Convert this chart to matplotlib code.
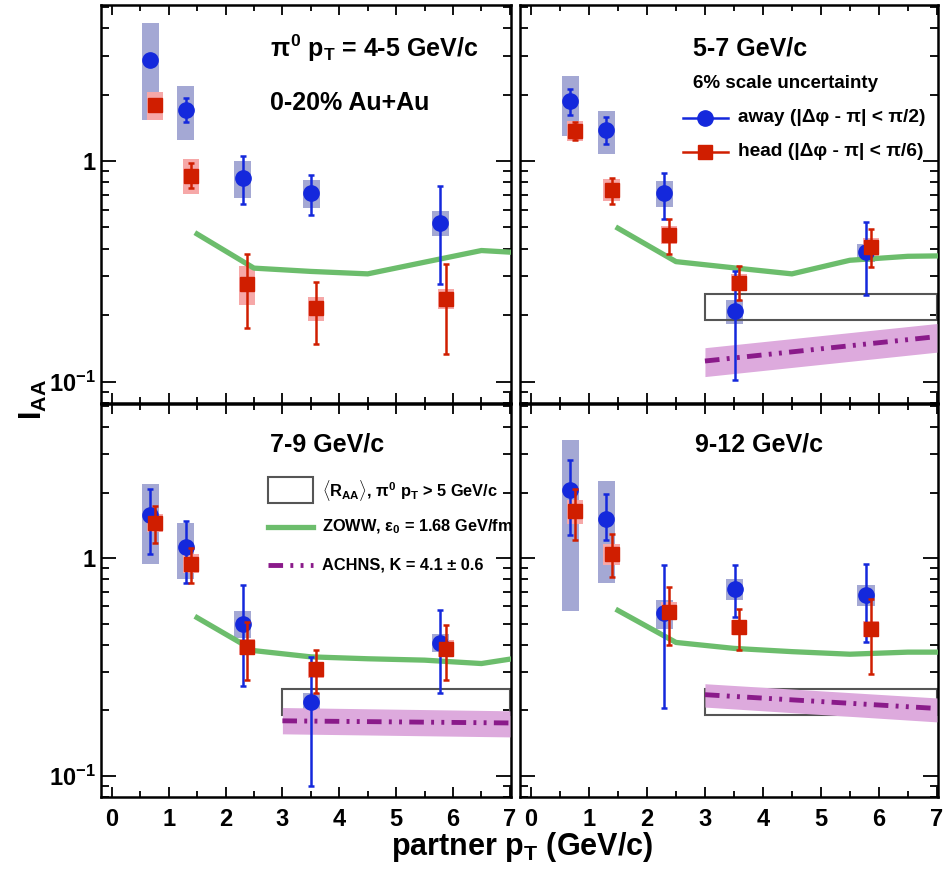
import numpy as np
import matplotlib
matplotlib.use("Agg")
from matplotlib import pyplot as plt
from matplotlib.lines import Line2D
from matplotlib.patches import Rectangle
from matplotlib.ticker import FixedLocator, NullFormatter, FixedFormatter, LogLocator

plt.rcParams['font.family'] = ['Liberation Sans', 'DejaVu Sans']
plt.rcParams['font.weight'] = 'bold'
plt.rcParams['mathtext.fontset'] = 'custom'
plt.rcParams['mathtext.rm'] = 'Liberation Sans:bold'
plt.rcParams['mathtext.it'] = 'Liberation Sans:bold'
plt.rcParams['mathtext.bf'] = 'Liberation Sans:bold'

# ---- data ----
AWAY_X = [0.68, 1.30, 2.30, 3.51, 5.78]
HEAD_X = [0.76, 1.39, 2.38, 3.59, 5.87]

PANELS = ["4-5", "5-7", "7-9", "9-12"]

away_y = [[2.88, 1.71, 0.842, 0.713, 0.524],
          [1.865, 1.39, 0.713, 0.208, 0.386],
          [1.57, 1.12, 0.50, 0.2185, 0.409],
          [2.045, 1.516, 0.56, 0.724, 0.68]]
away_stat_lo = [[2.75, 1.51, 0.642, 0.569, 0.278],
                [1.62, 1.20, 0.546, 0.102, 0.248],
                [1.047, 0.77, 0.258, 0.090, 0.24],
                [1.27, 1.205, 0.204, 0.536, 0.412]]
away_stat_hi = [[3.0, 1.93, 1.053, 0.865, 0.771],
                [2.12, 1.585, 0.886, 0.319, 0.527],
                [2.08, 1.48, 0.75, 0.351, 0.58],
                [2.81, 1.97, 0.926, 0.926, 0.94]]
away_sys_lo = [[1.54, 1.24, 0.679, 0.61, 0.456],
               [1.30, 1.08, 0.616, 0.183, 0.348],
               [0.936, 0.80, 0.43, 0.197, 0.37],
               [0.571, 0.768, 0.474, 0.644, 0.60]]
away_sys_hi = [[4.21, 2.19, 1.0, 0.818, 0.593],
               [2.42, 1.69, 0.812, 0.234, 0.421],
               [2.19, 1.45, 0.57, 0.239, 0.45],
               [3.49, 2.25, 0.644, 0.804, 0.755]]

head_y = [[1.80, 0.856, 0.276, 0.216, 0.238],
          [1.365, 0.74, 0.462, 0.281, 0.407],
          [1.45, 0.943, 0.391, 0.308, 0.384],
          [1.637, 1.047, 0.565, 0.483, 0.471]]
head_stat_lo = [[1.72, 0.753, 0.175, 0.148, 0.134],
                [1.24, 0.64, 0.38, 0.234, 0.33],
                [1.17, 0.768, 0.277, 0.239, 0.277],
                [1.205, 0.818, 0.398, 0.38, 0.293]]
head_stat_hi = [[1.88, 0.976, 0.38, 0.283, 0.342],
                [1.50, 0.84, 0.546, 0.336, 0.492],
                [1.73, 1.11, 0.508, 0.377, 0.491],
                [2.08, 1.294, 0.736, 0.586, 0.651]]
head_sys_lo = [[1.54, 0.707, 0.2235, 0.188, 0.214],
               [1.23, 0.66, 0.421, 0.2566, 0.373],
               [1.316, 0.853, 0.358, 0.282, 0.351],
               [1.438, 0.926, 0.518, 0.445, 0.434]]
head_sys_hi = [[2.05, 1.025, 0.336, 0.242, 0.262],
               [1.515, 0.833, 0.506, 0.308, 0.447],
               [1.6, 1.04, 0.427, 0.333, 0.419],
               [1.853, 1.164, 0.628, 0.522, 0.514]]

ZOWW_X = [1.5, 2.5, 3.5, 4.5, 5.5, 6.5, 7.5]
zoww_y = [[0.467, 0.327, 0.316, 0.308, 0.348, 0.393, 0.38],
          [0.496, 0.35, 0.328, 0.308, 0.355, 0.37, 0.373],
          [0.533, 0.376, 0.352, 0.345, 0.340, 0.328, 0.36],
          [0.575, 0.41, 0.385, 0.372, 0.362, 0.37, 0.37]]

ACHNS_X = [3.0, 7.0]
achns_y = [None, [0.124, 0.160], [0.179, 0.175], [0.236, 0.204]]
achns_lo = [None, [0.1054, 0.136], [0.156, 0.151], [0.207, 0.177]]
achns_hi = [None, [0.1425, 0.1834], [0.206, 0.199], [0.265, 0.228]]

RAA_X = [3.0, 7.0]
RAA_Y = [0.19, 0.25]
show_raa = [False, True, True, True]

BLUE = '#1428dc'
RED = '#d01e00'
BLUE_BOX = '#a4a8d4'
RED_BOX = '#f6a8a8'
GREEN = '#6cbd6c'
PURPLE = '#8a1a8a'
PURPLE_BAND = '#ddaadd'

W, H = 945, 875
fig = plt.figure(figsize=(W / 100, H / 100), dpi=100)


def fx(x):
    return x / W


def fy(y):
    return 1 - y / H


# axes boxes in pixels: left, top, right, bottom
boxes = [(101, 5, 511, 403), (520, 5, 938, 403),
         (101, 404, 511, 797), (520, 404, 938, 797)]

axes = []
for i, (l, t, r, b) in enumerate(boxes):
    ax = fig.add_axes([fx(l), fy(b), (r - l) / W, (b - t) / H])
    axes.append(ax)
    ax.set_yscale('log')
    ax.set_xlim(-0.19, 7.02)
    ax.set_ylim(0.08, 5.1)

    # systematic boxes
    ax.bar(AWAY_X, np.array(away_sys_hi[i]) - np.array(away_sys_lo[i]), width=0.3,
           bottom=away_sys_lo[i], color=BLUE_BOX, zorder=2)
    ax.bar(HEAD_X, np.array(head_sys_hi[i]) - np.array(head_sys_lo[i]), width=0.28,
           bottom=head_sys_lo[i], color=RED_BOX, zorder=2)

    # R_AA box
    if show_raa[i]:
        ax.add_patch(Rectangle((RAA_X[0], RAA_Y[0]), RAA_X[1] - RAA_X[0], RAA_Y[1] - RAA_Y[0],
                               facecolor='none', edgecolor='#555555', lw=1.5, zorder=2))
    # ACHNS band
    if achns_y[i] is not None:
        ax.fill_between(ACHNS_X, achns_lo[i], achns_hi[i], color=PURPLE_BAND, lw=0, zorder=3)
        ax.plot(ACHNS_X, achns_y[i], color=PURPLE, lw=3.5,
                dashes=(3, 1.5, 0.6, 1.5, 0.6, 1.5), zorder=4)

    # ZOWW curve
    ax.plot(ZOWW_X, zoww_y[i], color=GREEN, lw=3.8, zorder=3)

    # data points
    ay = np.array(away_y[i])
    ax.errorbar(AWAY_X, ay, yerr=[ay - np.array(away_stat_lo[i]), np.array(away_stat_hi[i]) - ay],
                fmt='o', color=BLUE, ms=11, lw=1.8, capsize=2, capthick=1.8, zorder=5)
    hy = np.array(head_y[i])
    ax.errorbar(HEAD_X, hy, yerr=[hy - np.array(head_stat_lo[i]), np.array(head_stat_hi[i]) - hy],
                fmt='s', color=RED, ms=10.5, lw=1.8, capsize=2, capthick=1.8, zorder=6)

    # ticks, ROOT style
    ax.xaxis.set_major_locator(FixedLocator(range(0, 8)))
    ax.xaxis.set_minor_locator(FixedLocator(np.arange(0.5, 7.1, 1.0)))
    ax.yaxis.set_major_locator(FixedLocator([0.1, 1]))
    ax.yaxis.set_minor_locator(LogLocator(base=10, subs=np.arange(2, 10), numticks=10))
    ax.yaxis.set_minor_formatter(NullFormatter())
    ax.tick_params(which='both', direction='in', top=True, right=True, width=1.3, color='black')
    ax.tick_params(axis='x', which='major', length=7, labelsize=17, pad=8)
    ax.tick_params(axis='x', which='minor', length=4)
    ax.tick_params(axis='y', which='major', length=11, labelsize=17, pad=4)
    ax.tick_params(axis='y', which='minor', length=6)
    if i in (0, 2):
        ax.yaxis.set_major_formatter(FixedFormatter(['10$^{-1}$', '1']))
    else:
        ax.yaxis.set_major_formatter(NullFormatter())
    if i in (2, 3):
        ax.xaxis.set_major_formatter(FixedFormatter([str(v) for v in range(8)]))
    else:
        ax.xaxis.set_major_formatter(NullFormatter())
    for lbl in ax.get_xticklabels() + ax.get_yticklabels():
        lbl.set_fontweight('bold')
    for s in ax.spines.values():
        s.set_linewidth(1.8)

# ---- panel texts ----
fig.text(fx(270), fy(57), r'$\pi^0$ p$_T$ = 4-5 GeV/c', fontsize=18, fontweight='bold', va='baseline')
fig.text(fx(270), fy(110), '0-20% Au+Au', fontsize=18, fontweight='bold', va='baseline')
fig.text(fx(693), fy(55), '5-7 GeV/c', fontsize=18, fontweight='bold', va='baseline')
fig.text(fx(693), fy(88), '6% scale uncertainty', fontsize=13.5, fontweight='bold', va='baseline')
fig.text(fx(270), fy(452), '7-9 GeV/c', fontsize=18, fontweight='bold', va='baseline')
fig.text(fx(695), fy(452), '9-12 GeV/c', fontsize=18, fontweight='bold', va='baseline')

# legend for the data points
for yy, col, mk, lab in [(118, BLUE, 'o', 'away (|Δφ - π| < π/2)'),
                         (152, RED, 's', 'head (|Δφ - π| < π/6)')]:
    fig.add_artist(Line2D([fx(683), fx(728)], [fy(yy), fy(yy)], color=col, lw=1.8))
    fig.add_artist(Line2D([fx(705.5)], [fy(yy)], color=col, marker=mk, ms=11 if mk == 'o' else 10.5))
    fig.text(fx(738), fy(yy), lab, fontsize=13.8, fontweight='bold', va='center')

# legend for the models
fig.add_artist(Rectangle((fx(268), fy(503)), (313 - 268) / W, (503 - 477) / H,
                         transform=fig.transFigure, facecolor='none', edgecolor='#555555', lw=1.5))
fig.text(fx(322), fy(490), r'$\langle$R$_{AA}\rangle$, $\pi^0$ p$_T$ > 5 GeV/c',
         fontsize=11.8, fontweight='bold', va='center')
fig.add_artist(Line2D([fx(268), fx(313)], [fy(527), fy(527)], color=GREEN, lw=3.8))
fig.text(fx(322), fy(527), 'ZOWW, ε$_0$ = 1.68 GeV/fm', fontsize=11.8, fontweight='bold', va='center')
fig.add_artist(Line2D([fx(268), fx(313)], [fy(565), fy(565)], color=PURPLE, lw=3.5,
                      dashes=(3, 1.5, 0.6, 1.5, 0.6, 1.5)))
fig.text(fx(322), fy(565), 'ACHNS, K = 4.1 ± 0.6', fontsize=11.8, fontweight='bold', va='center')

# axis titles
fig.text(fx(522), fy(855), 'partner p$_T$ (GeV/c)', fontsize=22, fontweight='bold',
         ha='center', va='baseline')
fig.text(fx(33), fy(399), 'I$_{AA}$', fontsize=22, fontweight='bold', rotation=90,
         ha='center', va='center')

fig.savefig('out.png', dpi=100)
